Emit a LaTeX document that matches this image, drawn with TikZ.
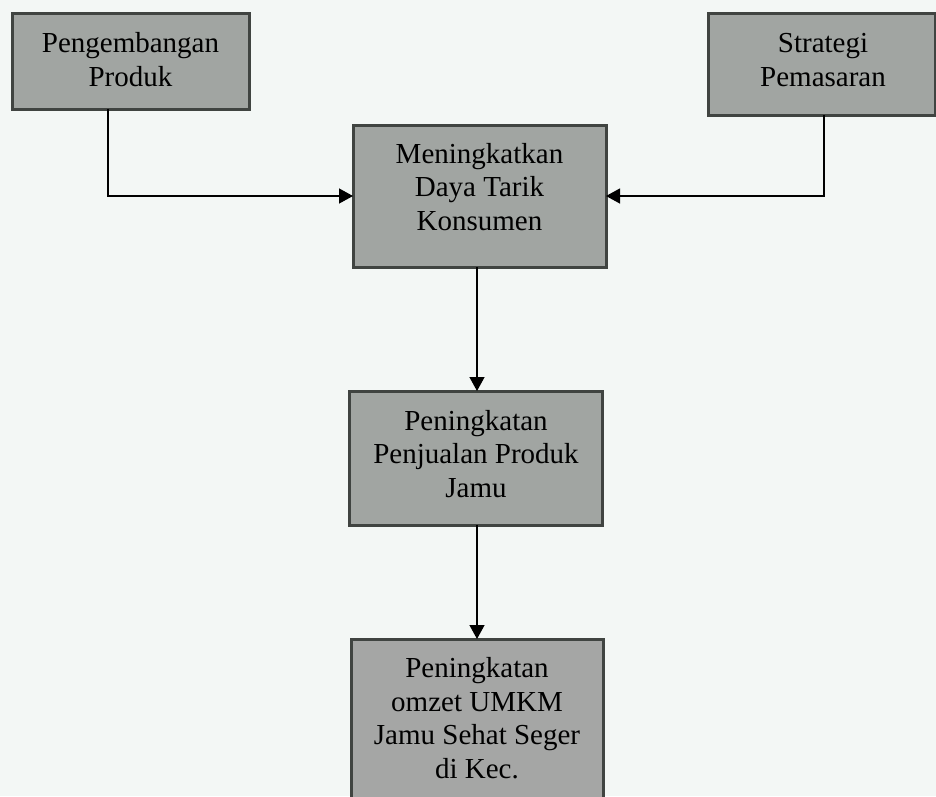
\documentclass[tikz,border=0pt]{standalone}
\usepackage{fontspec}
\setmainfont{Liberation Serif}
\usetikzlibrary{arrows.meta,calc}
\definecolor{bg}{HTML}{F3F7F5}
\definecolor{boxfill}{HTML}{A1A5A2}
\definecolor{boxfilllow}{HTML}{A5A6A5}
\definecolor{boxline}{HTML}{404441}
\begin{document}
\begin{tikzpicture}[x=1pt,y=-1pt,
  box/.style={draw=boxline, line width=3pt, fill=boxfill, inner sep=0pt, outer sep=0pt, anchor=north west},
  txt/.style={align=center, font=\fontsize{29}{33.5}\selectfont, inner sep=0pt, anchor=base},
  conn/.style={line width=1.3pt, -{Triangle[length=14pt,width=15pt]}}]
\clip (0,0) rectangle (936,796);
\fill[bg] (0,0) rectangle (936,796);
% boxes
\node[box, minimum width=237pt, minimum height=96pt] (b1) at (12,13) {};
\node[box, minimum width=227pt, minimum height=102pt] (b2) at (708,13) {};
\node[box, minimum width=253pt, minimum height=142pt] (b3) at (353,125) {};
\node[box, minimum width=253pt, minimum height=134pt] (b4) at (349,391) {};
\node[box, fill=boxfilllow, minimum width=252pt, minimum height=180pt] (b5) at (351,639) {};
% texts (anchor base = baseline of the last line)
\node[txt] (t1) at (130.5,86) {Pengembangan\\Produk};
\node[txt] (t2) at (823,86) {Strategi\\Pemasaran};
\node[txt] (t3) at (479.5,230) {Meningkatkan\\Daya Tarik\\Konsumen};
\node[txt] (t4) at (476,497) {Peningkatan\\Penjualan Produk\\Jamu};
\node[txt] (t5) at (477,778) {Peningkatan\\omzet UMKM\\Jamu Sehat Seger\\di Kec.};
% connectors
\draw[conn] ($(b1.south west)+(96,0)$) |- (b3.west);
\draw[conn] ($(b2.south west)+(116,0)$) |- (b3.east);
\coordinate (v1) at (477,0);
\draw[conn] (b3.south -| v1) -- (b4.north -| v1);
\draw[conn] (b4.south -| v1) -- (b5.north -| v1);
\end{tikzpicture}
\end{document}
